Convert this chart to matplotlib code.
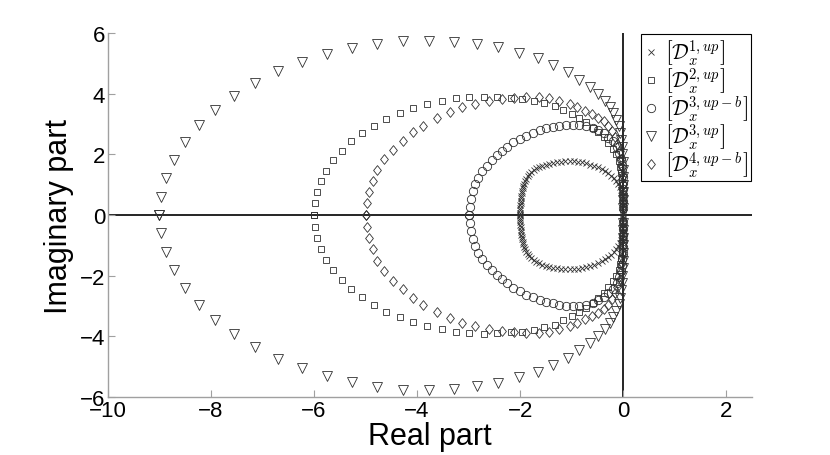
""" Eigenvalue spectra of upwind operators """
import numpy as np
import matplotlib
matplotlib.use('Agg')
import matplotlib.pyplot as plt

plt.rcParams['font.family'] = ['Liberation Sans', 'DejaVu Sans']
plt.rcParams['mathtext.fontset'] = 'cm'

# upper half of each spectrum, lower half is the conjugate
d1_re = [-2.00, -2.00, -2.00, -2.00, -2.00, -1.99, -1.99, -1.99, -1.98, -1.97,
         -1.96, -1.95, -1.94, -1.92, -1.90, -1.88, -1.85, -1.82, -1.78, -1.74,
         -1.69, -1.63, -1.57, -1.50, -1.43, -1.36, -1.28, -1.20, -1.12, -1.04,
         -0.96, -0.88, -0.80, -0.72, -0.64, -0.56, -0.49, -0.42, -0.35, -0.29,
         -0.23, -0.18, -0.14, -0.10, -0.07, -0.05, -0.03, -0.02, -0.01, -0.01,
         0.00, 0.00, 0.00, 0.00]
d1_im = [0.00, 0.08, 0.16, 0.24, 0.32, 0.40, 0.48, 0.56, 0.64, 0.72,
         0.80, 0.88, 0.96, 1.04, 1.12, 1.20, 1.28, 1.35, 1.42, 1.48,
         1.54, 1.59, 1.63, 1.67, 1.70, 1.73, 1.75, 1.76, 1.77, 1.77,
         1.77, 1.76, 1.74, 1.71, 1.67, 1.63, 1.58, 1.52, 1.45, 1.38,
         1.30, 1.21, 1.12, 1.02, 0.92, 0.82, 0.72, 0.62, 0.52, 0.42,
         0.32, 0.22, 0.12, 0.04]

d2_re = [-6.00, -5.99, -5.95, -5.87, -5.77, -5.63, -5.46, -5.28, -5.07, -4.83,
         -4.60, -4.34, -4.08, -3.81, -3.52, -3.25, -2.99, -2.71, -2.44, -2.18,
         -1.96, -1.73, -1.53, -1.33, -1.16, -1.00, -0.85, -0.72, -0.59, -0.48,
         -0.37, -0.29, -0.20, -0.14, -0.09, -0.06, -0.04, -0.02, -0.01, 0.00,
         0.00, 0.00, 0.00]
d2_im = [0.00, 0.39, 0.75, 1.11, 1.47, 1.81, 2.13, 2.43, 2.71, 2.95,
         3.18, 3.36, 3.53, 3.66, 3.77, 3.85, 3.89, 3.91, 3.89, 3.87,
         3.84, 3.78, 3.69, 3.61, 3.47, 3.33, 3.19, 3.06, 2.89, 2.73,
         2.57, 2.37, 2.18, 2.01, 1.80, 1.60, 1.40, 1.20, 1.00, 0.80,
         0.60, 0.40, 0.20]

d3b_re = [-3.00, -2.98, -2.96, -2.92, -2.87, -2.81, -2.73, -2.65, -2.55, -2.45,
          -2.36, -2.25, -2.13, -2.01, -1.89, -1.75, -1.62, -1.50, -1.37, -1.24,
          -1.11, -0.98, -0.85, -0.72, -0.59, -0.48, -0.38, -0.29, -0.20, -0.12,
          -0.08, -0.05, -0.03, -0.02, -0.01, 0.00, 0.00, 0.00, 0.00, 0.00]
d3b_im = [0.00, 0.27, 0.53, 0.78, 1.02, 1.24, 1.44, 1.63, 1.82, 1.98,
          2.12, 2.25, 2.40, 2.51, 2.62, 2.71, 2.81, 2.86, 2.91, 2.95,
          2.98, 2.98, 2.98, 2.95, 2.89, 2.81, 2.70, 2.56, 2.43, 2.25,
          2.05, 1.85, 1.65, 1.45, 1.25, 1.05, 0.85, 0.65, 0.45, 0.25]

d3_re = [-9.00, -8.97, -8.87, -8.72, -8.50, -8.23, -7.92, -7.55, -7.15, -6.70,
         -6.23, -5.75, -5.26, -4.77, -4.27, -3.76, -3.28, -2.83, -2.42, -2.02,
         -1.66, -1.37, -1.08, -0.86, -0.65, -0.48, -0.35, -0.26, -0.19, -0.13,
         -0.09, -0.06, -0.04, -0.03, -0.02, -0.01, -0.01, 0.00, 0.00, 0.00,
         0.00, 0.00]
d3_im = [0.00, 0.59, 1.22, 1.82, 2.41, 2.97, 3.47, 3.93, 4.36, 4.75,
         5.05, 5.31, 5.51, 5.66, 5.75, 5.75, 5.72, 5.64, 5.53, 5.35,
         5.17, 4.95, 4.71, 4.46, 4.21, 3.98, 3.77, 3.56, 3.36, 3.15,
         2.94, 2.72, 2.48, 2.24, 2.00, 1.75, 1.50, 1.25, 1.00, 0.75,
         0.50, 0.25]

d4b_re = [-5.00, -4.98, -4.93, -4.86, -4.78, -4.65, -4.46, -4.27, -4.08, -3.88,
          -3.62, -3.37, -3.13, -2.87, -2.61, -2.36, -2.12, -1.88, -1.64, -1.43,
          -1.24, -1.04, -0.89, -0.74, -0.61, -0.48, -0.38, -0.30, -0.22, -0.16,
          -0.11, -0.07, -0.04, -0.02, -0.01, 0.00, 0.00, 0.00, 0.00]
d4b_im = [0.00, 0.40, 0.77, 1.13, 1.50, 1.85, 2.16, 2.45, 2.73, 2.95,
          3.19, 3.39, 3.55, 3.66, 3.77, 3.83, 3.86, 3.88, 3.88, 3.85,
          3.76, 3.65, 3.55, 3.44, 3.33, 3.22, 3.10, 2.95, 2.78, 2.58,
          2.36, 2.12, 1.86, 1.58, 1.30, 1.02, 0.74, 0.46, 0.18]

labels = [r'$\left[\mathcal{D}_x^{1,up}\right]$',
          r'$\left[\mathcal{D}_x^{2,up}\right]$',
          r'$\left[\mathcal{D}_x^{3,up-b}\right]$',
          r'$\left[\mathcal{D}_x^{3,up}\right]$',
          r'$\left[\mathcal{D}_x^{4,up-b}\right]$']


def full_loop(re, im):
    # add the complex conjugate half
    re = np.asarray(re)
    im = np.asarray(im)
    return np.concatenate([re, re[::-1]]), np.concatenate([im, -im[::-1]])


# matlab style diamond, a bit wider than matplotlib's thin one
diamond = [(-0.8, 0), (0, 1), (0.8, 0), (0, -1), (-0.8, 0)]

series = [(d1_re, d1_im, 'x', 4.0),
          (d2_re, d2_im, 's', 5.0),
          (d3b_re, d3b_im, 'o', 6.0),
          (d3_re, d3_im, 'v', 6.5),
          (d4b_re, d4b_im, diamond, 7.0)]

fig = plt.figure(figsize=(8.3, 4.56), dpi=100)
ax = fig.add_axes([0.130, 0.127, 0.776, 0.798])

ax.axhline(0, color='black', lw=1.2, zorder=1)
ax.axvline(0, color='black', lw=1.2, zorder=1)

for (re, im, mk, ms), lab in zip(series, labels):
    x, y = full_loop(re, im)
    ax.plot(x, y, linestyle='none', marker=mk, ms=ms, mfc='none',
            mec='#303030', mew=0.6, label=lab, zorder=3)

ax.set_xlim(-10, 2.5)
ax.set_ylim(-6, 6)
ax.set_xticks(np.arange(-10, 3, 2))
ax.set_yticks(np.arange(-6, 7, 2))
ax.set_xlabel('Real part', fontsize=22, labelpad=0)
ax.set_ylabel('Imaginary part', fontsize=22, labelpad=4)

for s in ['top', 'right']:
    ax.spines[s].set_visible(False)
for s in ['left', 'bottom']:
    ax.spines[s].set_color('#a0a0a0')
    ax.spines[s].set_linewidth(1.0)
ax.tick_params(direction='in', length=5, color='#a0a0a0', labelsize=16, pad=2)

leg = ax.legend(loc='upper right', fontsize=15, fancybox=False, framealpha=1,
                edgecolor='black', borderaxespad=0.05, handlelength=0.7,
                handletextpad=0.3, labelspacing=-0.05, borderpad=0.15)
leg.get_frame().set_linewidth(0.8)

plt.savefig('out.png', dpi=100)
